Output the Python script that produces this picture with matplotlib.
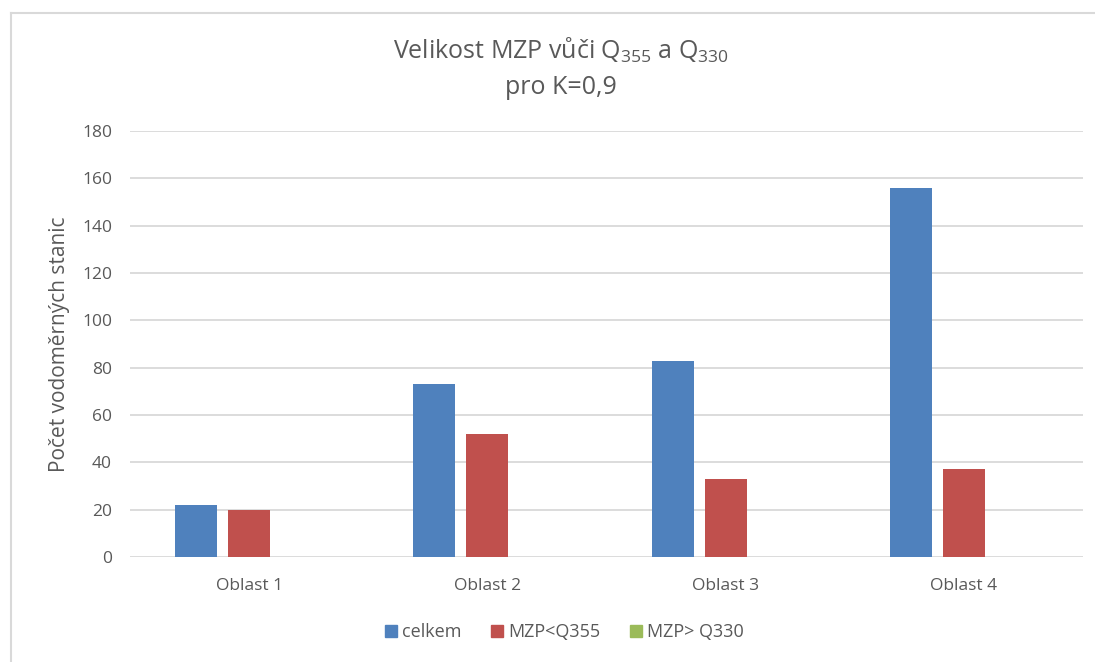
import matplotlib
matplotlib.use("Agg")
import matplotlib.pyplot as plt
import numpy as np
from matplotlib.lines import Line2D

categories = ["Oblast 1", "Oblast 2", "Oblast 3", "Oblast 4"]
celkem = [22, 73, 83, 156]
mzp_q355 = [20, 52, 33, 37]
mzp_q330 = [0, 0, 0, 0]
series_names = ["celkem", "MZP<Q355", "MZP> Q330"]
yticks = [0, 20, 40, 60, 80, 100, 120, 140, 160, 180]

plt.rcParams['font.family'] = ['Open Sans', 'DejaVu Sans']
plt.rcParams['mathtext.fontset'] = 'custom'
plt.rcParams['mathtext.rm'] = 'Open Sans'

W, H = 1095, 662
fig = plt.figure(figsize=(W/100, H/100), dpi=100)
left, right, top, bottom = 130, 1083, 131, 557
ax = fig.add_axes([left/W, 1-bottom/H, (right-left)/W, (bottom-top)/H])

colors = ["#4F81BD", "#C0504D", "#9BBB59"]
x = np.arange(len(categories))
bw = 0.176
off = 0.2225
for i, (vals, c) in enumerate(zip([celkem, mzp_q355, mzp_q330], colors)):
    ax.bar(x + (i-1)*off, vals, width=bw, color=c, zorder=3, label=series_names[i])

ax.set_xlim(-0.5, len(categories)-0.5)
ax.set_ylim(0, 180)
ax.set_yticks(yticks)
ax.set_xticks(x)
ax.set_xticklabels(categories)
ax.grid(axis='y', color='#D9D9D9', linewidth=1.3, zorder=0)
for s in ax.spines.values():
    s.set_visible(False)
ax.tick_params(axis='both', length=0, colors='#595959', labelsize=12.5)
ax.tick_params(axis='y', pad=13)
ax.tick_params(axis='x', pad=15)
ax.set_ylabel("Počet vodoměrných stanic", fontsize=15, color='#595959')
ax.yaxis.set_label_coords((70-left)/(right-left), 0.5)

fig.text(561/W, 1-50/H, r"Velikost MZP vůči Q$_\mathregular{355}$ a Q$_\mathregular{330}$",
         ha='center', va='center', fontsize=18, color='#595959')
fig.text(561/W, 1-88/H, "pro K=0,9", ha='center', va='center', fontsize=18, color='#595959')

handles = [Line2D([], [], marker='s', linestyle='none', markersize=8, markerfacecolor=c,
                  markeredgecolor=c) for c in colors]
fig.legend(handles, series_names, loc='center', bbox_to_anchor=(563/W, 1-632/H), ncol=3,
           frameon=False, fontsize=13, labelcolor='#595959', handletextpad=0.1,
           columnspacing=1.5, handlelength=1.0)

# chart border (left and top visible)
fig.add_artist(Line2D([11/W, 11/W], [0, 1-13/H], color='#D9D9D9', linewidth=1.5))
fig.add_artist(Line2D([11/W, 1], [1-13/H, 1-13/H], color='#D9D9D9', linewidth=1.5))

fig.savefig("out.png", dpi=100)
